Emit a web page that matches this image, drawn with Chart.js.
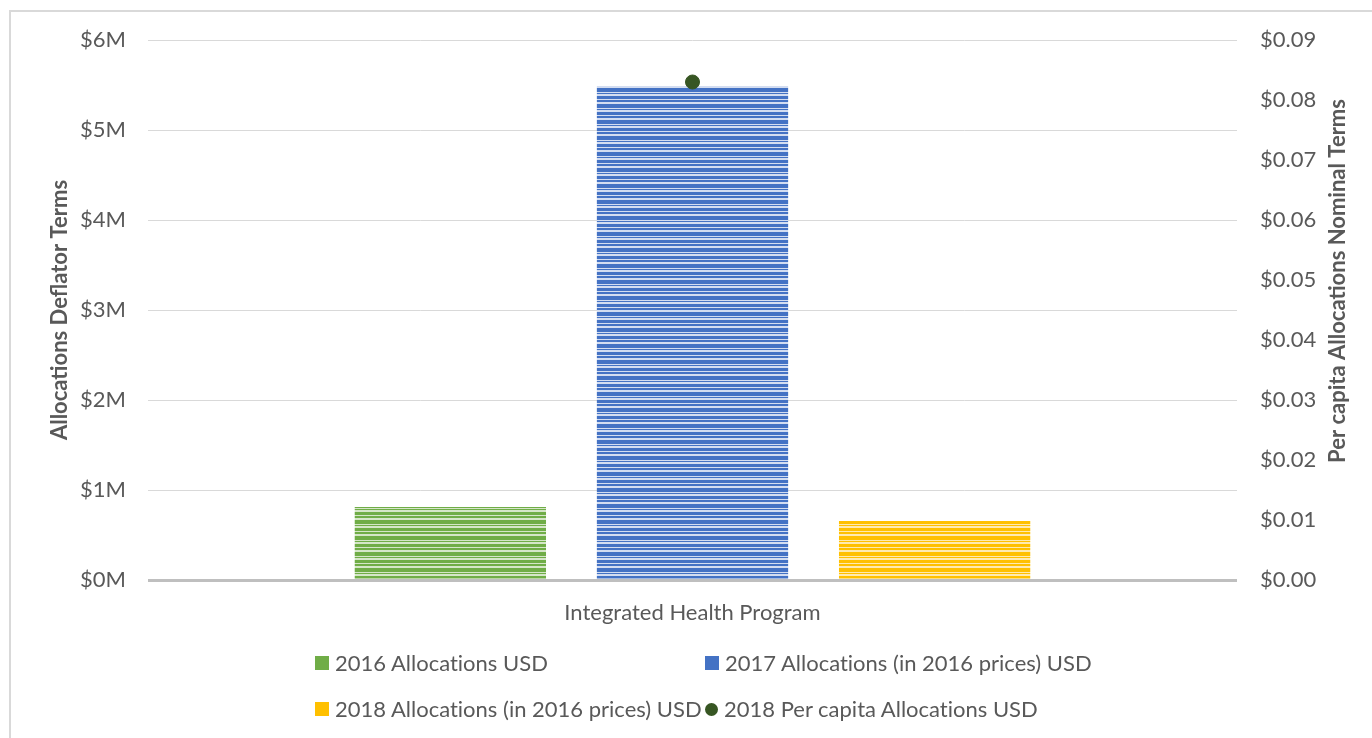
<!DOCTYPE html>
<html>
<head>
<meta charset="utf-8">
<script src="https://cdn.jsdelivr.net/npm/chart.js"></script>
<style>
  body { margin: 0; background: #fff; overflow: hidden; }
  #wrap { position: relative; width: 1372px; height: 738px; overflow: hidden; font-family: Lato, sans-serif; }
  #frame { position: absolute; left: 9px; top: 10px; width: 1400px; height: 760px; border: 2px solid #d9d9d9; box-sizing: border-box; }
  canvas { position: absolute; left: 0; top: 0; }
  .leg { position: absolute; font-size: 22px; color: #595959; white-space: nowrap; line-height: 24px; font-variant-ligatures: none; }
  .leg i { display: inline-block; vertical-align: middle; margin-right: 6px; position: relative; top: -2px; }
</style>
</head>
<body>
<div id="wrap">
  <div id="frame"></div>
  <canvas id="chart" width="1372" height="738"></canvas>
  <div id="legend"></div>
</div>
<script>
// categories and values
const categories = ['Integrated Health Program'];
const alloc2016 = [810000];
const alloc2017 = [5490000];
const alloc2018 = [655000];
const perCapita2018 = [0.083];

const seriesLabels = [
  '2016 Allocations USD',
  '2017 Allocations (in 2016 prices) USD',
  '2018 Allocations (in 2016 prices) USD',
  '2018 Per capita Allocations USD'
];

const textColor = '#595959';
const fontSize = 22;

// horizontal stripe fill like the Excel pattern
function stripes(dark, light) {
  const c = document.createElement('canvas');
  c.width = 8; c.height = 16;
  const g = c.getContext('2d');
  g.fillStyle = light;
  g.fillRect(0, 0, 8, 16);
  g.fillStyle = dark;
  [[0, 3], [4, 2], [8, 4], [13, 1]].forEach(([y, h]) => g.fillRect(0, y, 8, h));
  return g.createPattern(c, 'repeat');
}

const ctx = document.getElementById('chart').getContext('2d');

// right axis title reads bottom-to-top, as in the reference
const rightTitle = {
  id: 'rightTitle',
  afterDraw(chart) {
    const c = chart.ctx;
    c.save();
    c.translate(1338, 281);
    c.rotate(-Math.PI / 2);
    c.font = 'bold ' + fontSize + 'px Lato';
    c.fillStyle = textColor;
    c.textAlign = 'center';
    c.textBaseline = 'middle';
    c.fillText('Per capita Allocations Nominal Terms', 0, 0);
    c.restore();
  }
};

const chart = new Chart(ctx, {
  type: 'bar',
  data: {
    labels: categories,
    datasets: [
      {
        label: seriesLabels[0],
        data: alloc2016,
        backgroundColor: stripes('#70ad47', '#d5e6c8'),
        yAxisID: 'y',
        order: 1
      },
      {
        label: seriesLabels[1],
        data: alloc2017,
        backgroundColor: stripes('#4472c4', '#d3ddf1'),
        yAxisID: 'y',
        order: 1
      },
      {
        label: seriesLabels[2],
        data: alloc2018,
        backgroundColor: stripes('#ffc000', '#ffeab0'),
        yAxisID: 'y',
        order: 1
      },
      {
        type: 'line',
        label: seriesLabels[3],
        data: perCapita2018,
        showLine: false,
        pointRadius: 7,
        pointHoverRadius: 7,
        pointBackgroundColor: '#375623',
        pointBorderColor: '#375623',
        yAxisID: 'y1',
        order: 0
      }
    ]
  },
  options: {
    responsive: false,
    animation: false,
    layout: { padding: { top: 40, left: 0, right: 0, bottom: 0 } },
    categoryPercentage: 0.667,
    barPercentage: 0.79,
    plugins: {
      legend: { display: false },
      tooltip: { enabled: false }
    },
    scales: {
      x: {
        grid: { display: false },
        border: { display: false },
        ticks: {
          color: textColor,
          font: { family: 'Lato', size: fontSize },
          padding: 12
        },
        afterFit(scale) { scale.height = 158; }
      },
      y: {
        position: 'left',
        min: 0,
        max: 6000000,
        ticks: {
          stepSize: 1000000,
          color: textColor,
          font: { family: 'Lato', size: fontSize },
          padding: 22,
          callback: v => '$' + (v / 1000000) + 'M'
        },
        grid: {
          drawTicks: false,
          color: c => c.tick.value === 0 ? '#bfbfbf' : '#d9d9d9',
          lineWidth: c => c.tick.value === 0 ? 3 : 1
        },
        border: { display: false },
        title: {
          display: true,
          text: 'Allocations Deflator Terms',
          color: textColor,
          font: { family: 'Lato', size: fontSize, weight: 'bold' },
          padding: { top: 47, bottom: 0 }
        },
        afterFit(scale) { scale.width = 148; }
      },
      y1: {
        position: 'right',
        min: 0,
        max: 0.09,
        ticks: {
          stepSize: 0.01,
          color: textColor,
          font: { family: 'Lato', size: fontSize },
          padding: 23,
          callback: v => '$' + v.toFixed(2)
        },
        grid: { display: false, drawTicks: false },
        border: { display: false },
        afterFit(scale) { scale.width = 135; }
      }
    }
  },
  plugins: [rightTitle]
});

// legend laid out as the 2x2 grid of the reference
const legendPos = [[315, 663], [705, 663], [315, 709], [705, 709]];
const legendColors = ['#70ad47', '#4472c4', '#ffc000'];
const legendEl = document.getElementById('legend');
chart.data.datasets.forEach((ds, i) => {
  const item = document.createElement('div');
  item.className = 'leg';
  item.style.left = legendPos[i][0] + 'px';
  item.style.top = (legendPos[i][1] - 12) + 'px';
  const mark = document.createElement('i');
  if (ds.type === 'line') {
    mark.style.width = '13px';
    mark.style.height = '13px';
    mark.style.borderRadius = '50%';
    mark.style.background = ds.pointBackgroundColor;
  } else {
    mark.style.width = '14px';
    mark.style.height = '14px';
    mark.style.background = legendColors[i];
  }
  item.appendChild(mark);
  item.appendChild(document.createTextNode(ds.label));
  legendEl.appendChild(item);
});
</script>
</body>
</html>
